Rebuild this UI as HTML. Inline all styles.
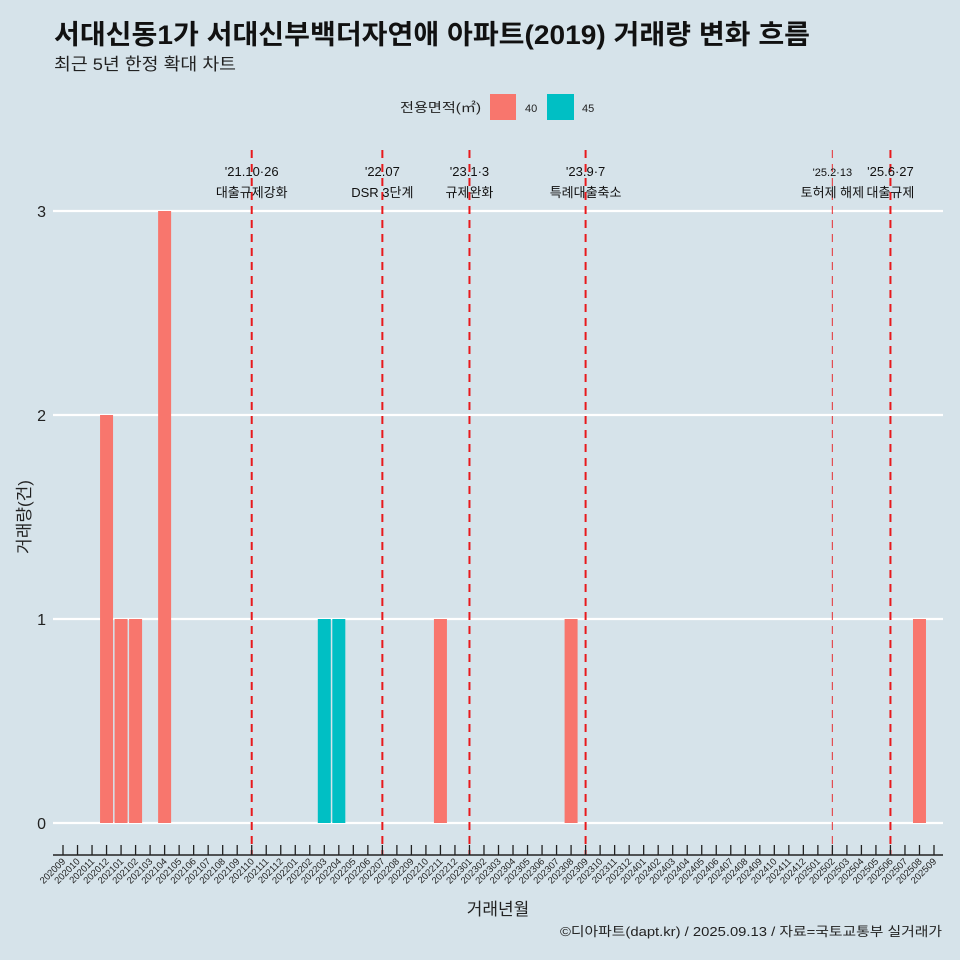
<!DOCTYPE html>
<html><head><meta charset="utf-8">
<style>
body{margin:0;background:#d6e3ea;}
svg{display:block;font-family:"Liberation Sans","Noto Sans CJK KR",sans-serif;}
</style></head>
<body>
<svg id="chart" width="960" height="960" viewBox="0 0 960 960">
<rect width="960" height="960" fill="#d6e3ea"/>
<text x="54" y="44" font-size="27" font-weight="bold" fill="#111" textLength="756" lengthAdjust="spacingAndGlyphs">서대신동1가 서대신부백더자연애 아파트(2019) 거래량 변화 흐름</text>
<text x="54" y="70" font-size="17" fill="#222" textLength="182" lengthAdjust="spacingAndGlyphs">최근 5년 한정 확대 차트</text>
<g>
<text x="400" y="112" font-size="13" fill="#222" textLength="81" lengthAdjust="spacingAndGlyphs">전용면적(㎡)</text>
<rect x="490" y="94" width="26" height="26" fill="#f8766d"/>
<text x="525" y="112" font-size="11" fill="#222">40</text>
<rect x="547" y="94" width="27" height="26" fill="#00bfc4"/>
<text x="582" y="112" font-size="11" fill="#222">45</text>
</g>
<g id="grid"></g><g id="events"></g><g id="bars"></g><g id="axes"></g>
<text x="30" y="517" font-size="17" fill="#222" text-anchor="middle" transform="rotate(-90 30 517)">거래량(건)</text>
<text x="498" y="915" font-size="17" fill="#222" text-anchor="middle">거래년월</text>
<text x="942" y="936" font-size="13" fill="#222" text-anchor="end" textLength="382" lengthAdjust="spacingAndGlyphs">©디아파트(dapt.kr) / 2025.09.13 / 자료=국토교통부 실거래가</text>
</svg>
<script>
const months = [];
for (let y = 2020, m = 9; y < 2025 || (y === 2025 && m <= 9); ) { months.push(y + String(m).padStart(2,'0')); m++; if (m > 12) { m = 1; y++; } }
const barMonths = ['202012','202101','202102','202104','202203','202204','202211','202308','202508'];
const barValues = [2,1,1,3,1,1,1,1,1];
const barSizes = ['40','40','40','40','45','45','40','40','40'];
const yTicks = [0,1,2,3];
const eventMonths = ['202110','202207','202301','202309','202502','202506'];
const eventDates = ["'21.10·26","'22.07","'23.1·3","'23.9·7","'25.2·13","'25.6·27"];
const eventLabels = ['대출규제강화','DSR 3단계','규제완화','특례대출축소','토허제 해제','대출규제'];

const NS='http://www.w3.org/2000/svg';
const X0=63, DX=(934-63)/(months.length-1);
const xOf = mo => X0 + months.indexOf(mo)*DX;
const Y0=823, DY=204;
const yOf = v => Y0 - v*DY;
const colors={'40':'#f8766d','45':'#00bfc4'};
function mk(parent,tag,attrs){const e=document.createElementNS(NS,tag);for(const k in attrs)e.setAttribute(k,attrs[k]);document.getElementById(parent).appendChild(e);return e;}

yTicks.forEach(v=>{
  const l=mk('grid','line',{x1:53,x2:943,y1:yOf(v),y2:yOf(v),stroke:'#fff','stroke-width':2.2});
  
  
  const t=mk('axes','text',{x:46,y:yOf(v)+6,'font-size':16,'text-anchor':'end',fill:'#222'});
  t.textContent=v;
  
  
});

eventMonths.forEach((mo,i)=>{
  const x=xOf(mo);
  const thin = i===4;
  const l=mk('events','line',{x1:x,x2:x,y1:150,y2:855,stroke:'#e8191c','stroke-width':thin?1.2:2,'stroke-dasharray':'8 6','opacity':thin?0.75:1});
  
  
  const t1=mk('events','text',{x:x,y:176,'font-size':thin?11:13,'text-anchor':'middle',fill:'#111'});
  t1.textContent=eventDates[i];
  
  
  const t2=mk('events','text',{x:x,y:197,'font-size':13,'text-anchor':'middle',fill:'#111'});
  t2.textContent=eventLabels[i];
  
  
});

barMonths.forEach((mo,i)=>{
  const x=xOf(mo), v=barValues[i];
  const r=mk('bars','rect',{x:x-6.5,y:yOf(v),width:13,height:v*DY,fill:colors[barSizes[i]]});
  
  
});

const ax=mk('axes','line',{x1:53,x2:943,y1:855,y2:855,stroke:'#222','stroke-width':1.5});


months.forEach(mo=>{
  const x=xOf(mo);
  const tk=mk('axes','line',{x1:x,x2:x,y1:845,y2:855,stroke:'#222','stroke-width':1.3});
  
  
  const t=mk('axes','text',{x:x+3,y:862,'font-size':9.5,'text-anchor':'end',fill:'#222',transform:`rotate(-45 ${x+3} 862)`});
  t.textContent=mo;
  
  
});
</script>
</body></html>
